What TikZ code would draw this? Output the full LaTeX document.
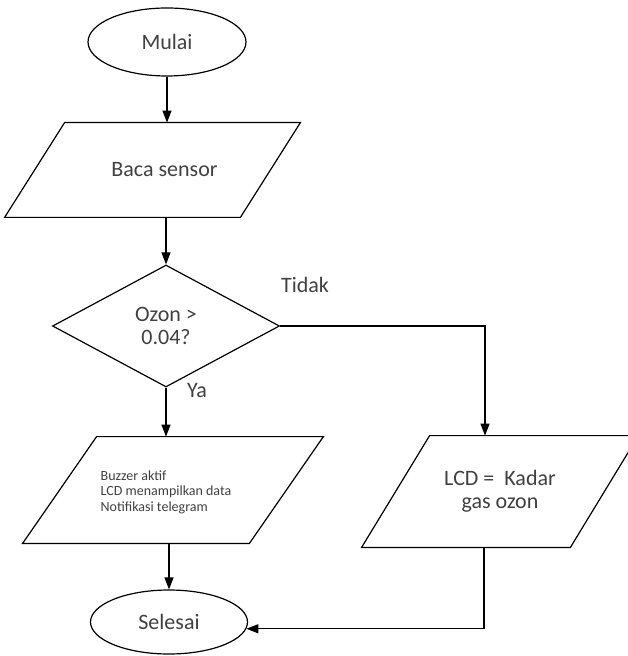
\documentclass[tikz,border=0pt]{standalone}
\usepackage{fontspec}
\setmainfont{Carlito}
\usetikzlibrary{shapes.geometric,arrows.meta}
\tikzstyle{term} = [ellipse, draw, line width=0.6pt, inner sep=0pt, font=\fontsize{11}{13}\selectfont]
\tikzstyle{io} = [rectangle, inner sep=0pt, align=center, font=\fontsize{11}{11.5}\selectfont]
\tikzstyle{decision} = [diamond, draw, line width=0.6pt, inner sep=0pt, align=center, font=\fontsize{11}{11.5}\selectfont]
\tikzstyle{lbl} = [font=\fontsize{11}{13}\selectfont]
\tikzstyle{line} = [draw, line width=0.6pt, -{Triangle[length=6pt, width=4.5pt]}]
% parallelogram round an io node: #1 node, #2 slant
\newcommand{\ioshape}[2]{\draw [line width=0.6pt] ([xshift=#2]#1.north west) -- (#1.north east) -- ([xshift=-#2]#1.south east) -- (#1.south west) -- cycle;}

\begin{document}
\begin{tikzpicture}[x=0.5pt, y=-0.5pt, text=black!75]
\useasboundingbox (0,0) rectangle (627,656);

% start, read
\node [term, minimum width=79pt, minimum height=34pt] at (167, 42) (mulai) {Mulai};
\node [io, minimum width=147.5pt, minimum height=47pt] at (152.5, 170) (baca) {\hspace*{12pt}Baca sensor};
\ioshape{baca}{30pt}
\path [line] (mulai.south) -- (mulai.south |- baca.north);

% decision
\node [decision, minimum width=113.5pt, minimum height=61pt] at (166, 326) (dec) {Ozon >\\0.04?};
\path [line] (dec.north |- baca.south) -- (dec.north);
\node [lbl] at (305, 285) (tidak) {Tidak};
\node [lbl] at (197, 391) (ya) {Ya};

% outputs
\node [io, minimum width=150pt, minimum height=53pt] at (173, 490) (buzzer) {};
\node [align=left, inner sep=0pt, font=\fontsize{7}{7.8}\selectfont] at (166, 492) (buzzertxt) {Buzzer aktif\\LCD menampilkan data\\Notifikasi telegram};
\ioshape{buzzer}{37pt}
\node [io, minimum width=138pt, minimum height=55.5pt] at (500, 491.5) (lcd) {LCD =\ \ Kadar\\gas ozon};
\ioshape{lcd}{34pt}
\path [line] (dec.south) -- (dec.south |- buzzer.north);
\path [line] (dec.east) -| ([xshift=-7.5pt]lcd.north);

% end
\node [term, minimum width=78.5pt, minimum height=32pt] at (169, 622) (selesai) {Selesai};
\path [line] (selesai.north |- buzzer.south) -- (selesai.north);
\path [line] ([xshift=-8pt]lcd.south) |- (selesai.-5);

\end{tikzpicture}
\end{document}
